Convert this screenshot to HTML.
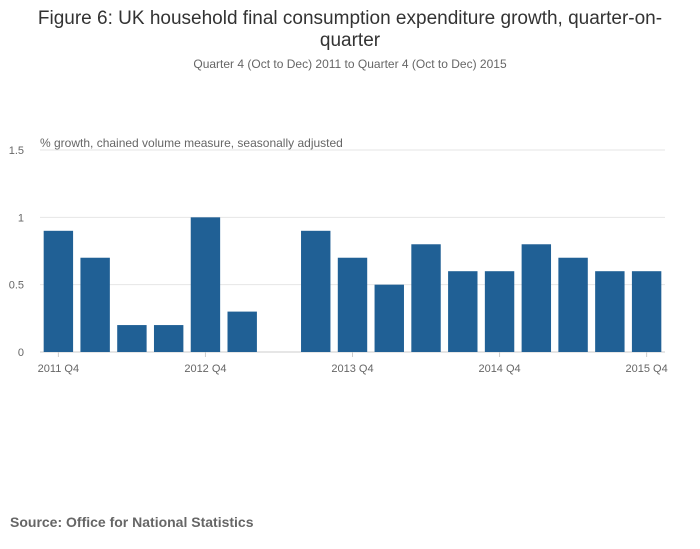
<!DOCTYPE html>
<html><head><meta charset="utf-8">
<style>
body{margin:0;background:#fff;font-family:"Liberation Sans","DejaVu Sans",sans-serif;}
#wrap{position:relative;width:700px;height:549px;overflow:hidden;}
</style></head>
<body>
<div id="wrap">
<svg id="chart" width="700" height="549">
<text x="350" y="24" text-anchor="middle" font-size="19" fill="#333">Figure 6: UK household final consumption expenditure growth, quarter-on-</text>
<text x="350" y="46" text-anchor="middle" font-size="19" fill="#333">quarter</text>
<text x="350" y="68" text-anchor="middle" font-size="12" fill="#666">Quarter 4 (Oct to Dec) 2011 to Quarter 4 (Oct to Dec) 2015</text>
<text x="40" y="147" font-size="12" fill="#666">% growth, chained volume measure, seasonally adjusted</text>
<g id="grid"></g><g id="bars"></g><g id="xaxis"></g>
<text x="10" y="527" font-size="14" font-weight="bold" fill="#666">Source: Office for National Statistics</text>
</svg>
</div>
<script>
const categories=["2011 Q4","2012 Q1","2012 Q2","2012 Q3","2012 Q4","2013 Q1","2013 Q2","2013 Q3","2013 Q4","2014 Q1","2014 Q2","2014 Q3","2014 Q4","2015 Q1","2015 Q2","2015 Q3","2015 Q4"];
const values=[0.9,0.7,0.2,0.2,1.0,0.3,0.0,0.9,0.7,0.5,0.8,0.6,0.6,0.8,0.7,0.6,0.6];
const yTicks=[0,0.5,1,1.5];
const yTickLabels=["0","0.5","1","1.5"];
const xLabelCats=["2011 Q4","2012 Q4","2013 Q4","2014 Q4","2015 Q4"];
const NS="http://www.w3.org/2000/svg";
const x0=40,x1=665,y0=352,yTop=150,yMax=1.5;
const slot=(x1-x0)/categories.length;
function y(v){return y0-(v/yMax)*(y0-yTop);}
function xc(i){return x0+slot*(i+0.5);}
function mk(t,a,p){const e=document.createElementNS(NS,t);for(const k in a)e.setAttribute(k,a[k]);p.appendChild(e);return e;}
const grid=document.getElementById('grid'),bars=document.getElementById('bars'),xa=document.getElementById('xaxis');
yTicks.forEach((t,i)=>{
  const l=mk('line',{x1:x0,x2:x1,y1:y(t),y2:y(t),stroke:i===0?'#ccc':'#e6e6e6','stroke-width':1},grid);
  
  
  const tx=mk('text',{x:24,y:y(t)+4,'text-anchor':'end','font-size':11,fill:'#666'},grid);
  tx.textContent=yTickLabels[i];
  
  
});
values.forEach((v,i)=>{
  const w=slot*0.8;
  const r=mk('rect',{x:xc(i)-w/2,y:y(v),width:w,height:y0-y(v),fill:'#206095'},bars);
  
  
});
xLabelCats.forEach(c=>{
  const i=categories.indexOf(c);
  const tk=mk('line',{x1:xc(i),x2:xc(i),y1:y0,y2:y0+5,stroke:'#ccc'},xa);
  
  
  const tx=mk('text',{x:xc(i),y:y0+20,'text-anchor':'middle','font-size':11,fill:'#666'},xa);
  tx.textContent=c;
  
  
});
</script>
</body></html>
